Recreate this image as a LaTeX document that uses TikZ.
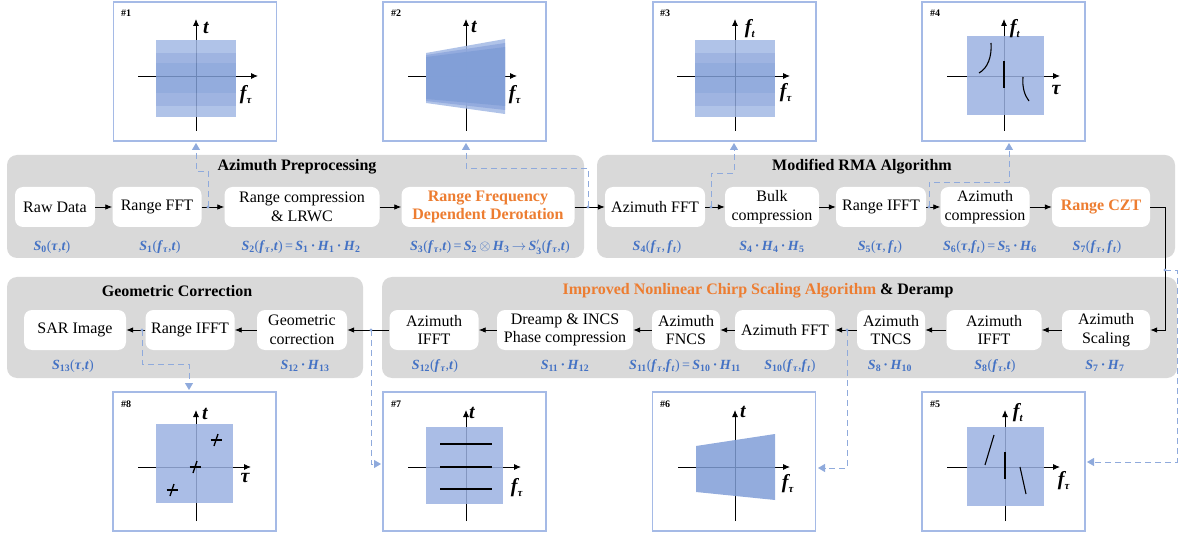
\documentclass[tikz,border=0pt]{standalone}
\usepackage{fontspec}
\setmainfont{Liberation Serif}
\usetikzlibrary{arrows.meta,calc}
\definecolor{panelgray}{RGB}{217,217,217}
\definecolor{frameblue}{RGB}{165,186,230}
\definecolor{dashblue}{RGB}{143,170,220}
\definecolor{formblue}{RGB}{68,114,196}
\definecolor{accent}{RGB}{237,125,49}
\definecolor{sqlight}{RGB}{162,184,228}
\definecolor{sqmid}{RGB}{142,167,220}
\definecolor{sqdark}{RGB}{128,158,215}
\definecolor{sqbase}{RGB}{155,177,226}
\newcommand\bvar[1]{\textbf{\textit{#1}}}
\newcommand\bsub[1]{\textsubscript{\textbf{#1}}}
\tikzset{
  procbox/.style={rounded corners=8pt, fill=white, align=center, inner sep=1pt,
    minimum height=40pt, font=\fontsize{16}{18.5}\selectfont},
  paneltitle/.style={font=\fontsize{16}{18}\selectfont\bfseries},
  formula/.style={text=formblue, font=\fontsize{14}{16}\selectfont, inner sep=0pt},
  plotframe/.style={draw=frameblue, line width=1.6pt, minimum width=163pt, minimum height=139pt},
  framelabel/.style={font=\fontsize{10}{10}\selectfont\bfseries, inner sep=0pt},
  axislabel/.style={font=\fontsize{20}{20}\selectfont\bfseries\itshape, inner sep=0pt},
  axis/.style={line width=0.9pt, -{Latex[length=7pt,width=6pt]}},
  flow/.style={line width=0.8pt, -{Latex[length=7pt,width=5.5pt]}},
  probe/.style={draw=dashblue, line width=0.9pt, dash pattern=on 6pt off 4pt,
    -{Triangle[length=7pt,width=8pt]}},
  spectrum/.style={fill opacity=0.85},
  trace/.style={line width=1.4pt},
}
\begin{document}
\begin{tikzpicture}[x=1pt,y=-1pt]
\useasboundingbox (0,0) rectangle (1183,537);

% ---------- grey stage panels ----------
\fill[panelgray, rounded corners=10pt] (7,155) rectangle (584,258);
\fill[panelgray, rounded corners=10pt] (597,155) rectangle (1175,258);
\fill[panelgray, rounded corners=10pt] (7,277) rectangle (363,378);
\fill[panelgray, rounded corners=10pt] (382,277) rectangle (1177,378);

\node[paneltitle] (title1) at (297,167) {Azimuth Preprocessing};
\node[paneltitle] (title2) at (862,167) {Modified RMA Algorithm};
\node[paneltitle] (title3) at (177,291) {Geometric Correction};
\node[paneltitle] (title4) at (758,291) {\textcolor{accent}{Improved Nonlinear Chirp Scaling Algorithm} \& Deramp};

% ---------- processing steps, first row ----------
\node[procbox, minimum width=80pt]  (raw)    at (55,207)  {Raw Data};
\node[procbox, minimum width=89pt]  (rfft)   at (157,207) {Range FFT};
\node[procbox, minimum width=155pt] (rcomp)  at (302,207) {Range compression\\\& LRWC};
\node[procbox, minimum width=173pt, text=accent, font=\fontsize{16}{18.5}\selectfont\bfseries] (rfdd) at (488,207) {Range Frequency\\Dependent Derotation};
\node[procbox, minimum width=100pt] (azfft)  at (655,207) {Azimuth FFT};
\node[procbox, minimum width=94pt]  (bulk)   at (772,207) {Bulk\\compression};
\node[procbox, minimum width=90pt]  (rifft)  at (881,207) {Range IFFT};
\node[procbox, minimum width=89pt]  (azcomp) at (985,207) {Azimuth\\compression};
\node[procbox, minimum width=98pt, text=accent, font=\fontsize{16}{18.5}\selectfont\bfseries] (czt) at (1101,207) {Range CZT};

% ---------- processing steps, second row ----------
\node[procbox, minimum width=102pt] (sar)    at (75,330)   {SAR Image};
\node[procbox, minimum width=89pt]  (rifftb) at (190,330)  {Range IFFT};
\node[procbox, minimum width=90pt]  (geo)    at (302,330)  {Geometric\\correction};
\node[procbox, minimum width=89pt]  (aifa)   at (434,330)  {Azimuth\\IFFT};
\node[procbox, minimum width=136pt] (dreamp) at (565,330)  {Dreamp \& INCS\\Phase compression};
\node[procbox, minimum width=68pt]  (fncs)   at (686,330)  {Azimuth\\FNCS};
\node[procbox, minimum width=100pt] (azfftb) at (785,330)  {Azimuth FFT};
\node[procbox, minimum width=68pt]  (tncs)   at (891,330)  {Azimuth\\TNCS};
\node[procbox, minimum width=95pt]  (aifb)   at (994,330)  {Azimuth\\IFFT};
\node[procbox, minimum width=88pt]  (scal)   at (1106,330) {Azimuth\\Scaling};

% ---------- signal expressions ----------
\node[formula] (e0)  at (52,247)  {\bvar{S}\bsub{0}(\bvar{τ},\bvar{t})};
\node[formula] (e1)  at (160,247) {\bvar{S}\bsub{1}(\bvar{f}\bsub{\textit{τ}},\bvar{t})};
\node[formula] (e2)  at (301,247) {\bvar{S}\bsub{2}(\bvar{f}\bsub{\textit{τ}},\bvar{t})\,=\,\bvar{S}\bsub{1}\,\textbf{·}\,\bvar{H}\bsub{1}\,\textbf{·}\,\bvar{H}\bsub{2}};
\node[formula] (e3)  at (490,247) {\bvar{S}\bsub{3}(\bvar{f}\bsub{\textit{τ}},\bvar{t})\,=\,\bvar{S}\bsub{2}\,$\otimes$\,\bvar{H}\bsub{3}\,$\rightarrow$\,\bvar{S}$^{\prime}_{\mathbf{3}}$(\bvar{f}\bsub{\textit{τ}},\bvar{t})};
\node[formula] (e4)  at (657,247) {\bvar{S}\bsub{4}(\bvar{f}\bsub{\textit{τ}},\,\bvar{f}\bsub{\textit{t}})};
\node[formula] (e5)  at (772,247) {\bvar{S}\bsub{4}\,\textbf{·}\,\bvar{H}\bsub{4}\,\textbf{·}\,\bvar{H}\bsub{5}};
\node[formula] (e6)  at (880,247) {\bvar{S}\bsub{5}(\bvar{τ},\,\bvar{f}\bsub{\textit{t}})};
\node[formula] (e7)  at (990,247) {\bvar{S}\bsub{6}(\bvar{τ},\bvar{f}\bsub{\textit{t}})\,=\,\bvar{S}\bsub{5}\,\textbf{·}\,\bvar{H}\bsub{6}};
\node[formula] (e8)  at (1097,247) {\bvar{S}\bsub{7}(\bvar{f}\bsub{\textit{τ}},\,\bvar{f}\bsub{\textit{t}})};

\node[formula] (e9)  at (73,366)   {\bvar{S}\bsub{13}(\bvar{τ},\bvar{t})};
\node[formula] (e10) at (305,366)  {\bvar{S}\bsub{12}\,\textbf{·}\,\bvar{H}\bsub{13}};
\node[formula] (e11) at (435,366)  {\bvar{S}\bsub{12}(\bvar{f}\bsub{\textit{τ}},\bvar{t})};
\node[formula] (e12) at (565,366)  {\bvar{S}\bsub{11}\,\textbf{·}\,\bvar{H}\bsub{12}};
\node[formula] (e13) at (685,366)  {\bvar{S}\bsub{11}(\bvar{f}\bsub{\textit{τ}},\bvar{f}\bsub{\textit{t}})\,=\,\bvar{S}\bsub{10}\,\textbf{·}\,\bvar{H}\bsub{11}};
\node[formula] (e14) at (790,366)  {\bvar{S}\bsub{10}(\bvar{f}\bsub{\textit{τ}},\bvar{f}\bsub{\textit{t}})};
\node[formula] (e15) at (890,366)  {\bvar{S}\bsub{8}\,\textbf{·}\,\bvar{H}\bsub{10}};
\node[formula] (e16) at (995,366)  {\bvar{S}\bsub{8}(\bvar{f}\bsub{\textit{τ}},\bvar{t})};
\node[formula] (e17) at (1105,366) {\bvar{S}\bsub{7}\,\textbf{·}\,\bvar{H}\bsub{7}};

% ---------- flow connectors ----------
\draw[flow] (raw) -- (rfft);
\draw[flow] (rfft) -- (rcomp);
\draw[flow] (rcomp) -- (rfdd);
\draw[flow] (rfdd) -- (azfft);
\draw[flow] (azfft) -- (bulk);
\draw[flow] (bulk) -- (rifft);
\draw[flow] (rifft) -- (azcomp);
\draw[flow] (azcomp) -- (czt);
\coordinate (turnA) at (1165,207);
\coordinate (turnB) at (1165,330);
\draw[flow] (czt.east) -- (turnA) -- (turnB) -- (scal.east);
\draw[flow] (scal) -- (aifb);
\draw[flow] (aifb) -- (tncs);
\draw[flow] (tncs) -- (azfftb);
\draw[flow] (azfftb) -- (fncs);
\draw[flow] (fncs) -- (dreamp);
\draw[flow] (dreamp) -- (aifa);
\draw[flow] (aifa) -- (geo);
\draw[flow] (geo) -- (rifftb);
\draw[flow] (rifftb) -- (sar);

% ---------- spectrum sketches ----------
\node[plotframe] (f1) at (195,71.5) {};
\node[plotframe] (f2) at (464.5,71.5) {};
\node[plotframe] (f3) at (734.5,71.5) {};
\node[plotframe] (f4) at (1003.5,71.5) {};
\node[plotframe] (f8) at (194.5,461.5) {};
\node[plotframe] (f7) at (464.5,461.5) {};
\node[plotframe] (f6) at (734,461.5) {};
\node[plotframe] (f5) at (1003.5,461.5) {};

\node[framelabel] (l1) at (126,13.5) {\#1};
\node[framelabel] (l2) at (396,13.5) {\#2};
\node[framelabel] (l3) at (665,13.5) {\#3};
\node[framelabel] (l4) at (935,13.5) {\#4};
\node[framelabel] (l8) at (126,404) {\#8};
\node[framelabel] (l7) at (396,404) {\#7};
\node[framelabel] (l6) at (665,404) {\#6};
\node[framelabel] (l5) at (935,404) {\#5};

% #1 : range spectrum
\draw[axis] (196,131) -- (196,19);
\draw[axis] (138,76) -- (258,76);
\begin{scope}[spectrum]
\fill[sqlight] (156,40) rectangle (236,53);
\fill[sqmid]   (156,53) rectangle (236,63);
\fill[sqdark]  (156,63) rectangle (236,93);
\fill[sqmid]   (156,93) rectangle (236,106);
\fill[sqlight] (156,106) rectangle (236,117);
\end{scope}
\node[axislabel] (a1t) at (206,28) {t};
\node[axislabel] (a1f) at (246,95) {f\textsubscript{\fontsize{11}{11}\selectfont τ}};

% #2 : after derotation
\draw[axis] (466,131) -- (466,19);
\draw[axis] (408,76) -- (517,76);
\begin{scope}[spectrum]
\fill[sqlight] (426,53) -- (505,39) -- (505,114) -- (426,103) -- cycle;
\fill[sqmid]   (426,55) -- (505,43) -- (505,110) -- (426,101) -- cycle;
\fill[sqdark]  (426,57) -- (505,47) -- (505,106) -- (426,99) -- cycle;
\end{scope}
\node[axislabel] (a2t) at (474,27) {t};
\node[axislabel] (a2f) at (515,95) {f\textsubscript{\fontsize{11}{11}\selectfont τ}};

% #3 : two-dimensional frequency domain
\draw[axis] (735,131) -- (735,19);
\draw[axis] (677,76) -- (790,76);
\begin{scope}[spectrum]
\fill[sqlight] (695,40) rectangle (775,53);
\fill[sqmid]   (695,53) rectangle (775,63);
\fill[sqdark]  (695,63) rectangle (775,93);
\fill[sqmid]   (695,93) rectangle (775,106);
\fill[sqlight] (695,106) rectangle (775,117);
\end{scope}
\node[axislabel] (a3t) at (750,29) {f\textsubscript{\fontsize{11}{11}\selectfont t}};
\node[axislabel] (a3f) at (786,93) {f\textsubscript{\fontsize{11}{11}\selectfont τ}};

% #4 : after azimuth compression
\draw[axis] (1004,131) -- (1004,19);
\draw[axis] (947,76) -- (1060,76);
\fill[sqbase, spectrum] (967,36) rectangle (1044,115);
\draw[trace, line width=1.1pt] (979,73) .. controls (988,68) and (992,56) .. (991,43);
\draw[trace, line width=1.1pt] (1023,77) .. controls (1022,88) and (1025,96) .. (1029,101);
\draw[trace] (1004,61) -- (1004,88);
\node[axislabel] (a4t) at (1015,29) {f\textsubscript{\fontsize{11}{11}\selectfont t}};
\node[axislabel] (a4f) at (1056,90) {τ};

% #5 : after azimuth scaling
\draw[axis] (1005,521) -- (1005,410);
\draw[axis] (947,467) -- (1060,467);
\fill[sqbase, spectrum] (967,427) rectangle (1044,506);
\draw[trace, line width=1.1pt] (985,465) -- (994,435);
\draw[trace] (1005,452) -- (1005,479);
\draw[trace, line width=1.1pt] (1020,467) -- (1026,494);
\node[axislabel] (a5t) at (1018,413) {f\textsubscript{\fontsize{11}{11}\selectfont t}};
\node[axislabel] (a5f) at (1064,481) {f\textsubscript{\fontsize{11}{11}\selectfont τ}};

% #6 : range-Doppler support
\draw[axis] (735,521) -- (735,410);
\draw[axis] (678,467) -- (790,467);
\fill[sqdark, spectrum] (696,446) -- (775,434) -- (775,500) -- (696,492) -- cycle;
\node[axislabel] (a6t) at (743,412) {t};
\node[axislabel] (a6f) at (788,484) {f\textsubscript{\fontsize{11}{11}\selectfont τ}};

% #7 : after phase compression
\draw[axis] (466,521) -- (466,410);
\draw[axis] (408,467) -- (521,467);
\fill[sqbase, spectrum] (426,427) rectangle (503,504);
\draw[line width=1.1pt] (440,444) -- (492,444);
\draw[line width=1.1pt] (440,467) -- (492,467);
\draw[line width=1.1pt] (440,489) -- (492,489);
\node[axislabel] (a7t) at (472,413) {t};
\node[axislabel] (a7f) at (517,488) {f\textsubscript{\fontsize{11}{11}\selectfont τ}};

% #8 : focused image
\draw[axis] (196,521) -- (196,410);
\draw[axis] (138,467) -- (251,467);
\fill[sqbase, spectrum] (156,424) rectangle (233,503);
\foreach \px/\py in {216/440, 195/467, 172/490} {
  \draw[trace] (\px-5.5,\py) -- (\px+5.5,\py);
  \draw[trace] (\px-2,\py+6) -- (\px+2,\py-6);
}
\node[axislabel] (a8t) at (205,414) {t};
\node[axislabel] (a8f) at (245,478) {τ};

% ---------- probes from the flow to the sketches ----------
\coordinate (p1) at (208,207);
\coordinate (p2) at (588,207);
\coordinate (p3) at (711,207);
\coordinate (p4) at (929,207);
\coordinate (p5) at (1165,270);
\coordinate (p6) at (847,330);
\coordinate (p7) at (371,330);
\coordinate (p8) at (142,330);
\foreach \p in {p1,p2,p3,p4,p5,p6,p7,p8} \fill[dashblue] (\p) circle (1.6pt);

\draw[probe] (p1) -- (208,171) -- (196,171) -- (196,143);
\draw[probe] (p2) -- (588,168) -- (466,168) -- (466,143);
\draw[probe] (p3) -- (711,173) -- (734,173) -- (734,143);
\draw[probe] (p4) -- (929,182) -- (1009,182) -- (1009,143);
\draw[probe] (p5) -- (1177,270) -- (1177,462) -- (1087,462);
\draw[probe] (p6) -- (847,468) -- (818,468);
\draw[probe] (p7) -- (371,464) -- (381,464);
\draw[probe] (p8) -- (142,364) -- (189,364) -- (189,390);
\end{tikzpicture}
\end{document}
